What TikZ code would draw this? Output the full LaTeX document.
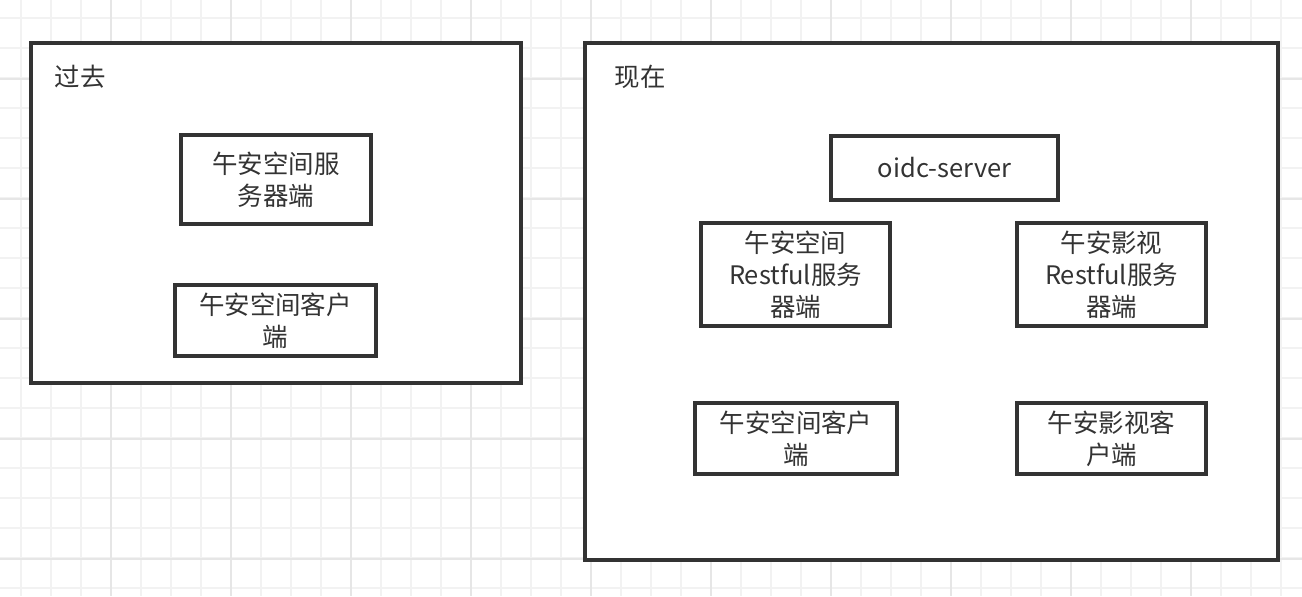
\documentclass[tikz,border=0pt]{standalone}
\usepackage{fontspec}
\setmainfont{Noto Sans CJK SC}
\usepackage{xcolor}
\usetikzlibrary{positioning}
\definecolor{edgegray}{HTML}{333333}
\definecolor{gridminor}{HTML}{F2F2F2}
\definecolor{gridmajor}{HTML}{E6E6E6}

\begin{document}
\begin{tikzpicture}[
  x=0.02cm, y=-0.02cm,
  frame/.style={draw=edgegray, line width=1.9pt, fill=white, inner sep=0pt},
  box/.style={draw=edgegray, line width=1.9pt, fill=white, inner sep=0pt,
              align=center, text=edgegray,
              font=\fontsize{14.5pt}{18.2pt}\selectfont},
  tag/.style={text=edgegray, inner sep=0pt, font=\fontsize{14.5pt}{18.2pt}\selectfont}
]
\useasboundingbox (0,0) rectangle (1302,596);
\fill[white] (0,0) rectangle (1302,596);

\foreach \x in {21,51,...,1301}
  \draw[gridminor, line width=0.6pt] (\x,0) -- (\x,596);
\foreach \y in {18,48,...,596}
  \draw[gridminor, line width=0.6pt] (0,\y) -- (1302,\y);
\foreach \x in {111,231,...,1301}
  \draw[gridmajor, line width=0.6pt] (\x,0) -- (\x,596);
\foreach \y in {79,199,...,596}
  \draw[gridmajor, line width=0.6pt] (0,\y) -- (1302,\y);

\node[frame, minimum width=9.8cm, minimum height=6.8cm] (past) at (276,213) {};
\node[frame, minimum width=13.86cm, minimum height=10.34cm] (now) at (931.5,301.5) {};

\node[tag] (pastlbl) at (80,77) {过去};
\node[tag] (nowlbl) at (640,77) {现在};

\node[box, minimum width=3.8cm, minimum height=1.78cm] (oldsrv) at (276,179.5) {午安空间服\\务器端};
\node[box, minimum width=4.02cm, minimum height=1.42cm] (oldcli) at (275.5,320.5) {午安空间客户\\端};

\node[box, minimum width=4.54cm, minimum height=1.28cm] (oidc) at (944.5,168) {oidc-server};
\node[box, minimum width=3.78cm, minimum height=2.06cm] (spacesrv) at (795.5,274.5) {午安空间\\Restful服务\\器端};
\node[box, minimum width=3.78cm, minimum height=2.06cm] (moviesrv) at (1111.5,274.5) {午安影视\\Restful服务\\器端};
\node[box, minimum width=4.04cm, minimum height=1.42cm] (spacecli) at (796,438.5) {午安空间客户\\端};
\node[box, minimum width=3.78cm, minimum height=1.42cm] (moviecli) at (1111.5,438.5) {午安影视客\\户端};
\end{tikzpicture}
\end{document}
